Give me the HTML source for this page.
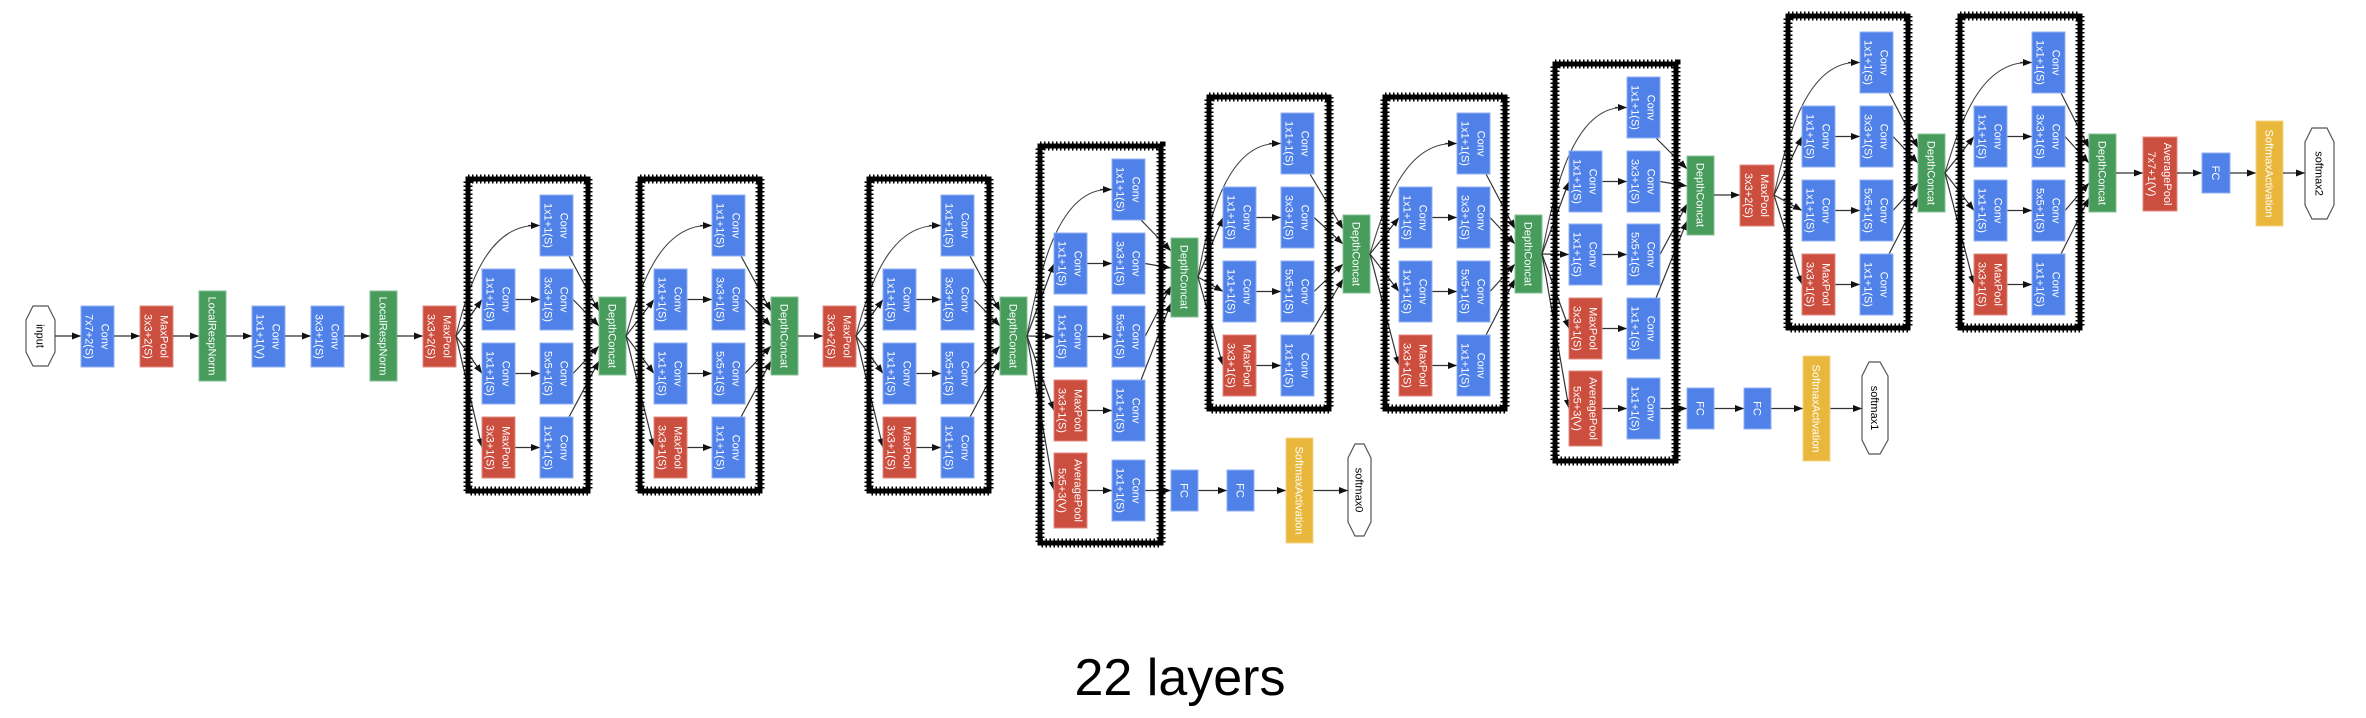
<!DOCTYPE html>
<html><head><meta charset="utf-8"><style>
html,body{margin:0;padding:0;background:#fff;}
svg{display:block;}
.b{fill:#4f81e9;stroke:#8fb0f2;stroke-width:1}
.r{fill:#cc4e3f;stroke:#e08b80;stroke-width:1}
.g{fill:#479c5c;stroke:#86c196;stroke-width:1}
.y{fill:#e9b73c;stroke:#f2d48a;stroke-width:1}
.t{fill:#fff;font-family:"Liberation Sans",sans-serif;font-size:11px;text-anchor:middle}
.k{fill:#000;font-family:"Liberation Sans",sans-serif;font-size:11px;text-anchor:middle}
.e{stroke:#333;stroke-width:1.2;fill:none;marker-end:url(#a)}
.l{stroke:#444;stroke-width:1.1;fill:none}
.bd{fill:none;stroke:#000;stroke-width:5}
.bd2{fill:none;stroke:#000;stroke-width:9;stroke-dasharray:1.5 2.5}
.h{fill:#fff;stroke:#555;stroke-width:1.2}
</style></head><body>
<svg width="2366" height="718" viewBox="0 0 2366 718" xmlns="http://www.w3.org/2000/svg">
<defs><marker id="a" markerWidth="9" markerHeight="7" refX="9" refY="3.5" orient="auto" markerUnits="userSpaceOnUse"><path d="M0,0 L9,3.5 L0,7z" fill="#111"/></marker></defs>

<!-- stem -->
<polygon class="h" points="33,306 48,306 55,320 55,352 48,366 33,366 26,352 26,320"/>
<text class="k" transform="translate(40.5,336) rotate(90)"><tspan x="0" y="4">input</tspan></text>
<path class="e" d="M55,336 H81"/>
<rect class="b" x="81" y="306" width="33" height="61"/><text class="t" transform="translate(97.5,336.5) rotate(90)"><tspan x="0" y="-4">Conv</tspan><tspan x="0" y="12">7x7+2(S)</tspan></text>
<path class="e" d="M114,336 H140"/>
<rect class="r" x="140" y="306" width="33" height="61"/><text class="t" transform="translate(156.5,336.5) rotate(90)"><tspan x="0" y="-4">MaxPool</tspan><tspan x="0" y="12">3x3+2(S)</tspan></text>
<path class="e" d="M173,336 H199"/>
<rect class="g" x="199" y="291" width="27" height="90"/><text class="t" transform="translate(212.5,336) rotate(90)"><tspan x="0" y="4">LocalRespNorm</tspan></text>
<path class="e" d="M226,336 H252"/>
<rect class="b" x="252" y="306" width="33" height="61"/><text class="t" transform="translate(268.5,336.5) rotate(90)"><tspan x="0" y="-4">Conv</tspan><tspan x="0" y="12">1x1+1(V)</tspan></text>
<path class="e" d="M285,336 H311"/>
<rect class="b" x="311" y="306" width="33" height="61"/><text class="t" transform="translate(327.5,336.5) rotate(90)"><tspan x="0" y="-4">Conv</tspan><tspan x="0" y="12">3x3+1(S)</tspan></text>
<path class="e" d="M344,336 H370"/>
<rect class="g" x="370" y="291" width="27" height="90"/><text class="t" transform="translate(383.5,336) rotate(90)"><tspan x="0" y="4">LocalRespNorm</tspan></text>
<path class="e" d="M397,336 H423"/>
<rect class="r" x="423" y="306" width="33" height="61"/><text class="t" transform="translate(439.5,336.5) rotate(90)"><tspan x="0" y="-4">MaxPool</tspan><tspan x="0" y="12">3x3+2(S)</tspan></text>

<!-- Inception A: box1 -->
<g transform="translate(468,336)">
<path class="l" d="M-12,0 C0,-50 20,-110.5 68,-110.5"/><path class="e" d="M60,-110.5 H72"/>
<path class="e" d="M-12,0 L14,-36.5"/><path class="e" d="M-12,0 L14,37.5"/><path class="e" d="M-12,0 L14,111.5"/>
<path class="e" d="M47,-36.5 H72"/><path class="e" d="M47,37.5 H72"/><path class="e" d="M47,111.5 H72"/>
<path class="e" d="M101,-80 L131,-25"/><path class="e" d="M105,-36.5 L131,-10"/><path class="e" d="M105,37.5 L131,10"/><path class="e" d="M101,81 L131,25"/>
<rect class="bd" x="0" y="-157" width="120" height="312"/><rect class="bd2" x="0" y="-157" width="120" height="312"/>
<rect class="b" x="72" y="-141" width="33" height="61"/><text class="t" transform="translate(88.5,-110.5) rotate(90)"><tspan x="0" y="-4">Conv</tspan><tspan x="0" y="12">1x1+1(S)</tspan></text>
<rect class="b" x="14" y="-67" width="33" height="61"/><text class="t" transform="translate(30.5,-36.5) rotate(90)"><tspan x="0" y="-4">Conv</tspan><tspan x="0" y="12">1x1+1(S)</tspan></text>
<rect class="b" x="72" y="-67" width="33" height="61"/><text class="t" transform="translate(88.5,-36.5) rotate(90)"><tspan x="0" y="-4">Conv</tspan><tspan x="0" y="12">3x3+1(S)</tspan></text>
<rect class="b" x="14" y="7" width="33" height="61"/><text class="t" transform="translate(30.5,37.5) rotate(90)"><tspan x="0" y="-4">Conv</tspan><tspan x="0" y="12">1x1+1(S)</tspan></text>
<rect class="b" x="72" y="7" width="33" height="61"/><text class="t" transform="translate(88.5,37.5) rotate(90)"><tspan x="0" y="-4">Conv</tspan><tspan x="0" y="12">5x5+1(S)</tspan></text>
<rect class="r" x="14" y="81" width="33" height="61"/><text class="t" transform="translate(30.5,111.5) rotate(90)"><tspan x="0" y="-4">MaxPool</tspan><tspan x="0" y="12">3x3+1(S)</tspan></text>
<rect class="b" x="72" y="81" width="33" height="61"/><text class="t" transform="translate(88.5,111.5) rotate(90)"><tspan x="0" y="-4">Conv</tspan><tspan x="0" y="12">1x1+1(S)</tspan></text>
<rect class="g" x="131" y="-39" width="27" height="78"/><text class="t" transform="translate(144.5,0) rotate(90)"><tspan x="0" y="4">DepthConcat</tspan></text>
</g>

<!-- box2 -->
<g transform="translate(640,336)">
<path class="l" d="M-14,0 C0,-50 20,-110.5 68,-110.5"/><path class="e" d="M60,-110.5 H72"/>
<path class="e" d="M-14,0 L14,-36.5"/><path class="e" d="M-14,0 L14,37.5"/><path class="e" d="M-14,0 L14,111.5"/>
<path class="e" d="M47,-36.5 H72"/><path class="e" d="M47,37.5 H72"/><path class="e" d="M47,111.5 H72"/>
<path class="e" d="M101,-80 L131,-25"/><path class="e" d="M105,-36.5 L131,-10"/><path class="e" d="M105,37.5 L131,10"/><path class="e" d="M101,81 L131,25"/>
<rect class="bd" x="0" y="-157" width="120" height="312"/><rect class="bd2" x="0" y="-157" width="120" height="312"/>
<rect class="b" x="72" y="-141" width="33" height="61"/><text class="t" transform="translate(88.5,-110.5) rotate(90)"><tspan x="0" y="-4">Conv</tspan><tspan x="0" y="12">1x1+1(S)</tspan></text>
<rect class="b" x="14" y="-67" width="33" height="61"/><text class="t" transform="translate(30.5,-36.5) rotate(90)"><tspan x="0" y="-4">Conv</tspan><tspan x="0" y="12">1x1+1(S)</tspan></text>
<rect class="b" x="72" y="-67" width="33" height="61"/><text class="t" transform="translate(88.5,-36.5) rotate(90)"><tspan x="0" y="-4">Conv</tspan><tspan x="0" y="12">3x3+1(S)</tspan></text>
<rect class="b" x="14" y="7" width="33" height="61"/><text class="t" transform="translate(30.5,37.5) rotate(90)"><tspan x="0" y="-4">Conv</tspan><tspan x="0" y="12">1x1+1(S)</tspan></text>
<rect class="b" x="72" y="7" width="33" height="61"/><text class="t" transform="translate(88.5,37.5) rotate(90)"><tspan x="0" y="-4">Conv</tspan><tspan x="0" y="12">5x5+1(S)</tspan></text>
<rect class="r" x="14" y="81" width="33" height="61"/><text class="t" transform="translate(30.5,111.5) rotate(90)"><tspan x="0" y="-4">MaxPool</tspan><tspan x="0" y="12">3x3+1(S)</tspan></text>
<rect class="b" x="72" y="81" width="33" height="61"/><text class="t" transform="translate(88.5,111.5) rotate(90)"><tspan x="0" y="-4">Conv</tspan><tspan x="0" y="12">1x1+1(S)</tspan></text>
<rect class="g" x="131" y="-39" width="27" height="78"/><text class="t" transform="translate(144.5,0) rotate(90)"><tspan x="0" y="4">DepthConcat</tspan></text>
</g>

<path class="e" d="M798,336 H823"/>
<rect class="r" x="823" y="306" width="33" height="61"/><text class="t" transform="translate(839.5,336.5) rotate(90)"><tspan x="0" y="-4">MaxPool</tspan><tspan x="0" y="12">3x3+2(S)</tspan></text>

<!-- box3 -->
<g transform="translate(869,336)">
<path class="l" d="M-13,0 C0,-50 20,-110.5 68,-110.5"/><path class="e" d="M60,-110.5 H72"/>
<path class="e" d="M-13,0 L14,-36.5"/><path class="e" d="M-13,0 L14,37.5"/><path class="e" d="M-13,0 L14,111.5"/>
<path class="e" d="M47,-36.5 H72"/><path class="e" d="M47,37.5 H72"/><path class="e" d="M47,111.5 H72"/>
<path class="e" d="M101,-80 L131,-25"/><path class="e" d="M105,-36.5 L131,-10"/><path class="e" d="M105,37.5 L131,10"/><path class="e" d="M101,81 L131,25"/>
<rect class="bd" x="0" y="-157" width="120" height="312"/><rect class="bd2" x="0" y="-157" width="120" height="312"/>
<rect class="b" x="72" y="-141" width="33" height="61"/><text class="t" transform="translate(88.5,-110.5) rotate(90)"><tspan x="0" y="-4">Conv</tspan><tspan x="0" y="12">1x1+1(S)</tspan></text>
<rect class="b" x="14" y="-67" width="33" height="61"/><text class="t" transform="translate(30.5,-36.5) rotate(90)"><tspan x="0" y="-4">Conv</tspan><tspan x="0" y="12">1x1+1(S)</tspan></text>
<rect class="b" x="72" y="-67" width="33" height="61"/><text class="t" transform="translate(88.5,-36.5) rotate(90)"><tspan x="0" y="-4">Conv</tspan><tspan x="0" y="12">3x3+1(S)</tspan></text>
<rect class="b" x="14" y="7" width="33" height="61"/><text class="t" transform="translate(30.5,37.5) rotate(90)"><tspan x="0" y="-4">Conv</tspan><tspan x="0" y="12">1x1+1(S)</tspan></text>
<rect class="b" x="72" y="7" width="33" height="61"/><text class="t" transform="translate(88.5,37.5) rotate(90)"><tspan x="0" y="-4">Conv</tspan><tspan x="0" y="12">5x5+1(S)</tspan></text>
<rect class="r" x="14" y="81" width="33" height="61"/><text class="t" transform="translate(30.5,111.5) rotate(90)"><tspan x="0" y="-4">MaxPool</tspan><tspan x="0" y="12">3x3+1(S)</tspan></text>
<rect class="b" x="72" y="81" width="33" height="61"/><text class="t" transform="translate(88.5,111.5) rotate(90)"><tspan x="0" y="-4">Conv</tspan><tspan x="0" y="12">1x1+1(S)</tspan></text>
<rect class="g" x="131" y="-39" width="27" height="78"/><text class="t" transform="translate(144.5,0) rotate(90)"><tspan x="0" y="4">DepthConcat</tspan></text>
</g>

<!-- box4 aux -->
<g transform="translate(1040,336)">
<path class="l" d="M-13,0 C0,-70 20,-146.5 68,-146.5"/><path class="e" d="M60,-146.5 H72"/>
<path class="e" d="M-13,0 L14,-72.5"/><path class="e" d="M-13,0 L14,0.5"/><path class="e" d="M-13,0 L14,74.5"/><path class="e" d="M-13,0 L14,154.5"/>
<path class="e" d="M47,-72.5 H72"/><path class="e" d="M47,0.5 H72"/><path class="e" d="M47,74.5 H72"/><path class="e" d="M47,154.5 H72"/>
<path class="e" d="M101,-116 L131,-85"/><path class="e" d="M105,-72.5 L131,-68"/><path class="e" d="M105,0.5 L131,-50"/><path class="e" d="M101,44 L131,-33"/>
<path class="e" d="M105,154.5 H131"/><path class="e" d="M158,154.5 H187"/><path class="e" d="M214,154.5 H246"/><path class="e" d="M273,154.5 H308"/>
<rect class="bd" x="0" y="-190" width="121" height="397"/><rect class="bd2" x="0" y="-190" width="121" height="397"/>
<rect class="b" x="72" y="-177" width="33" height="61"/><text class="t" transform="translate(88.5,-146.5) rotate(90)"><tspan x="0" y="-4">Conv</tspan><tspan x="0" y="12">1x1+1(S)</tspan></text>
<rect class="b" x="14" y="-103" width="33" height="61"/><text class="t" transform="translate(30.5,-72.5) rotate(90)"><tspan x="0" y="-4">Conv</tspan><tspan x="0" y="12">1x1+1(S)</tspan></text>
<rect class="b" x="72" y="-103" width="33" height="61"/><text class="t" transform="translate(88.5,-72.5) rotate(90)"><tspan x="0" y="-4">Conv</tspan><tspan x="0" y="12">3x3+1(S)</tspan></text>
<rect class="b" x="14" y="-30" width="33" height="61"/><text class="t" transform="translate(30.5,0.5) rotate(90)"><tspan x="0" y="-4">Conv</tspan><tspan x="0" y="12">1x1+1(S)</tspan></text>
<rect class="b" x="72" y="-30" width="33" height="61"/><text class="t" transform="translate(88.5,0.5) rotate(90)"><tspan x="0" y="-4">Conv</tspan><tspan x="0" y="12">5x5+1(S)</tspan></text>
<rect class="r" x="14" y="44" width="33" height="61"/><text class="t" transform="translate(30.5,74.5) rotate(90)"><tspan x="0" y="-4">MaxPool</tspan><tspan x="0" y="12">3x3+1(S)</tspan></text>
<rect class="b" x="72" y="44" width="33" height="61"/><text class="t" transform="translate(88.5,74.5) rotate(90)"><tspan x="0" y="-4">Conv</tspan><tspan x="0" y="12">1x1+1(S)</tspan></text>
<rect class="r" x="14" y="117" width="33" height="75"/><text class="t" transform="translate(30.5,154.5) rotate(90)"><tspan x="0" y="-4">AveragePool</tspan><tspan x="0" y="12">5x5+3(V)</tspan></text>
<rect class="b" x="72" y="124" width="33" height="61"/><text class="t" transform="translate(88.5,154.5) rotate(90)"><tspan x="0" y="-4">Conv</tspan><tspan x="0" y="12">1x1+1(S)</tspan></text>
<rect class="g" x="131" y="-98" width="27" height="79"/><text class="t" transform="translate(144.5,-59) rotate(90)"><tspan x="0" y="4">DepthConcat</tspan></text>
<rect class="b" x="131" y="134" width="27" height="41"/><text class="t" transform="translate(144.5,154.5) rotate(90)"><tspan x="0" y="4">FC</tspan></text>
<rect class="b" x="187" y="134" width="27" height="41"/><text class="t" transform="translate(200.5,154.5) rotate(90)"><tspan x="0" y="4">FC</tspan></text>
<rect class="y" x="246" y="102" width="27" height="105"/><text class="t" transform="translate(259.5,154.5) rotate(90)"><tspan x="0" y="4">SoftmaxActivation</tspan></text>
<polygon class="h" points="315,108 324,108 331,122 331,186 324,200 315,200 308,186 308,122"/>
<text class="k" transform="translate(319.5,154) rotate(90)"><tspan x="0" y="4">softmax0</tspan></text>
</g>

<!-- box5 -->
<g transform="translate(1209,254)">
<path class="l" d="M-11,23 C0,-40 20,-110.5 68,-110.5"/><path class="e" d="M60,-110.5 H72"/>
<path class="e" d="M-11,23 L14,-36.5"/><path class="e" d="M-11,23 L14,37.5"/><path class="e" d="M-11,23 L14,111.5"/>
<path class="e" d="M47,-36.5 H72"/><path class="e" d="M47,37.5 H72"/><path class="e" d="M47,111.5 H72"/>
<path class="e" d="M101,-80 L134,-25"/><path class="e" d="M105,-36.5 L134,-10"/><path class="e" d="M105,37.5 L134,10"/><path class="e" d="M101,81 L134,25"/>
<rect class="bd" x="0" y="-157" width="120" height="312"/><rect class="bd2" x="0" y="-157" width="120" height="312"/>
<rect class="b" x="72" y="-141" width="33" height="61"/><text class="t" transform="translate(88.5,-110.5) rotate(90)"><tspan x="0" y="-4">Conv</tspan><tspan x="0" y="12">1x1+1(S)</tspan></text>
<rect class="b" x="14" y="-67" width="33" height="61"/><text class="t" transform="translate(30.5,-36.5) rotate(90)"><tspan x="0" y="-4">Conv</tspan><tspan x="0" y="12">1x1+1(S)</tspan></text>
<rect class="b" x="72" y="-67" width="33" height="61"/><text class="t" transform="translate(88.5,-36.5) rotate(90)"><tspan x="0" y="-4">Conv</tspan><tspan x="0" y="12">3x3+1(S)</tspan></text>
<rect class="b" x="14" y="7" width="33" height="61"/><text class="t" transform="translate(30.5,37.5) rotate(90)"><tspan x="0" y="-4">Conv</tspan><tspan x="0" y="12">1x1+1(S)</tspan></text>
<rect class="b" x="72" y="7" width="33" height="61"/><text class="t" transform="translate(88.5,37.5) rotate(90)"><tspan x="0" y="-4">Conv</tspan><tspan x="0" y="12">5x5+1(S)</tspan></text>
<rect class="r" x="14" y="81" width="33" height="61"/><text class="t" transform="translate(30.5,111.5) rotate(90)"><tspan x="0" y="-4">MaxPool</tspan><tspan x="0" y="12">3x3+1(S)</tspan></text>
<rect class="b" x="72" y="81" width="33" height="61"/><text class="t" transform="translate(88.5,111.5) rotate(90)"><tspan x="0" y="-4">Conv</tspan><tspan x="0" y="12">1x1+1(S)</tspan></text>
<rect class="g" x="134" y="-39" width="27" height="78"/><text class="t" transform="translate(147.5,0) rotate(90)"><tspan x="0" y="4">DepthConcat</tspan></text>
</g>

<!-- box6 -->
<g transform="translate(1385,254)">
<path class="l" d="M-15,0 C0,-50 20,-110.5 68,-110.5"/><path class="e" d="M60,-110.5 H72"/>
<path class="e" d="M-15,0 L14,-36.5"/><path class="e" d="M-15,0 L14,37.5"/><path class="e" d="M-15,0 L14,111.5"/>
<path class="e" d="M47,-36.5 H72"/><path class="e" d="M47,37.5 H72"/><path class="e" d="M47,111.5 H72"/>
<path class="e" d="M101,-80 L130,-25"/><path class="e" d="M105,-36.5 L130,-10"/><path class="e" d="M105,37.5 L130,10"/><path class="e" d="M101,81 L130,25"/>
<rect class="bd" x="0" y="-157" width="120" height="312"/><rect class="bd2" x="0" y="-157" width="120" height="312"/>
<rect class="b" x="72" y="-141" width="33" height="61"/><text class="t" transform="translate(88.5,-110.5) rotate(90)"><tspan x="0" y="-4">Conv</tspan><tspan x="0" y="12">1x1+1(S)</tspan></text>
<rect class="b" x="14" y="-67" width="33" height="61"/><text class="t" transform="translate(30.5,-36.5) rotate(90)"><tspan x="0" y="-4">Conv</tspan><tspan x="0" y="12">1x1+1(S)</tspan></text>
<rect class="b" x="72" y="-67" width="33" height="61"/><text class="t" transform="translate(88.5,-36.5) rotate(90)"><tspan x="0" y="-4">Conv</tspan><tspan x="0" y="12">3x3+1(S)</tspan></text>
<rect class="b" x="14" y="7" width="33" height="61"/><text class="t" transform="translate(30.5,37.5) rotate(90)"><tspan x="0" y="-4">Conv</tspan><tspan x="0" y="12">1x1+1(S)</tspan></text>
<rect class="b" x="72" y="7" width="33" height="61"/><text class="t" transform="translate(88.5,37.5) rotate(90)"><tspan x="0" y="-4">Conv</tspan><tspan x="0" y="12">5x5+1(S)</tspan></text>
<rect class="r" x="14" y="81" width="33" height="61"/><text class="t" transform="translate(30.5,111.5) rotate(90)"><tspan x="0" y="-4">MaxPool</tspan><tspan x="0" y="12">3x3+1(S)</tspan></text>
<rect class="b" x="72" y="81" width="33" height="61"/><text class="t" transform="translate(88.5,111.5) rotate(90)"><tspan x="0" y="-4">Conv</tspan><tspan x="0" y="12">1x1+1(S)</tspan></text>
<rect class="g" x="130" y="-39" width="27" height="78"/><text class="t" transform="translate(143.5,0) rotate(90)"><tspan x="0" y="4">DepthConcat</tspan></text>
</g>

<!-- box7 aux -->
<g transform="translate(1555,254)">
<path class="l" d="M-13,0 C0,-70 20,-146.5 68,-146.5"/><path class="e" d="M60,-146.5 H72"/>
<path class="e" d="M-13,0 L14,-72.5"/><path class="e" d="M-13,0 L14,0.5"/><path class="e" d="M-13,0 L14,74.5"/><path class="e" d="M-13,0 L14,154.5"/>
<path class="e" d="M47,-72.5 H72"/><path class="e" d="M47,0.5 H72"/><path class="e" d="M47,74.5 H72"/><path class="e" d="M47,154.5 H72"/>
<path class="e" d="M101,-116 L132,-85"/><path class="e" d="M105,-72.5 L132,-68"/><path class="e" d="M105,0.5 L132,-50"/><path class="e" d="M101,44 L132,-33"/>
<path class="e" d="M105,154.5 H132"/><path class="e" d="M159,154.5 H189"/><path class="e" d="M216,154.5 H248"/><path class="e" d="M275,154.5 H307"/>
<rect class="bd" x="0" y="-190" width="121" height="397"/><rect class="bd2" x="0" y="-190" width="121" height="397"/>
<rect class="b" x="72" y="-177" width="33" height="61"/><text class="t" transform="translate(88.5,-146.5) rotate(90)"><tspan x="0" y="-4">Conv</tspan><tspan x="0" y="12">1x1+1(S)</tspan></text>
<rect class="b" x="14" y="-103" width="33" height="61"/><text class="t" transform="translate(30.5,-72.5) rotate(90)"><tspan x="0" y="-4">Conv</tspan><tspan x="0" y="12">1x1+1(S)</tspan></text>
<rect class="b" x="72" y="-103" width="33" height="61"/><text class="t" transform="translate(88.5,-72.5) rotate(90)"><tspan x="0" y="-4">Conv</tspan><tspan x="0" y="12">3x3+1(S)</tspan></text>
<rect class="b" x="14" y="-30" width="33" height="61"/><text class="t" transform="translate(30.5,0.5) rotate(90)"><tspan x="0" y="-4">Conv</tspan><tspan x="0" y="12">1x1+1(S)</tspan></text>
<rect class="b" x="72" y="-30" width="33" height="61"/><text class="t" transform="translate(88.5,0.5) rotate(90)"><tspan x="0" y="-4">Conv</tspan><tspan x="0" y="12">5x5+1(S)</tspan></text>
<rect class="r" x="14" y="44" width="33" height="61"/><text class="t" transform="translate(30.5,74.5) rotate(90)"><tspan x="0" y="-4">MaxPool</tspan><tspan x="0" y="12">3x3+1(S)</tspan></text>
<rect class="b" x="72" y="44" width="33" height="61"/><text class="t" transform="translate(88.5,74.5) rotate(90)"><tspan x="0" y="-4">Conv</tspan><tspan x="0" y="12">1x1+1(S)</tspan></text>
<rect class="r" x="14" y="117" width="33" height="75"/><text class="t" transform="translate(30.5,154.5) rotate(90)"><tspan x="0" y="-4">AveragePool</tspan><tspan x="0" y="12">5x5+3(V)</tspan></text>
<rect class="b" x="72" y="124" width="33" height="61"/><text class="t" transform="translate(88.5,154.5) rotate(90)"><tspan x="0" y="-4">Conv</tspan><tspan x="0" y="12">1x1+1(S)</tspan></text>
<rect class="g" x="132" y="-98" width="27" height="79"/><text class="t" transform="translate(145.5,-59) rotate(90)"><tspan x="0" y="4">DepthConcat</tspan></text>
<rect class="b" x="132" y="134" width="27" height="41"/><text class="t" transform="translate(145.5,154.5) rotate(90)"><tspan x="0" y="4">FC</tspan></text>
<rect class="b" x="189" y="134" width="27" height="41"/><text class="t" transform="translate(202.5,154.5) rotate(90)"><tspan x="0" y="4">FC</tspan></text>
<rect class="y" x="248" y="102" width="27" height="105"/><text class="t" transform="translate(261.5,154.5) rotate(90)"><tspan x="0" y="4">SoftmaxActivation</tspan></text>
<polygon class="h" points="314,108 325,108 333,122 333,186 325,200 314,200 307,186 307,122"/>
<text class="k" transform="translate(320,154) rotate(90)"><tspan x="0" y="4">softmax1</tspan></text>
</g>

<path class="e" d="M1714,195 H1740"/>
<rect class="r" x="1740" y="165" width="34" height="61"/><text class="t" transform="translate(1757,195.5) rotate(90)"><tspan x="0" y="-4">MaxPool</tspan><tspan x="0" y="12">3x3+2(S)</tspan></text>

<!-- box8 -->
<g transform="translate(1788,173)">
<path class="l" d="M-14,22 C0,-40 20,-110.5 68,-110.5"/><path class="e" d="M60,-110.5 H72"/>
<path class="e" d="M-14,22 L14,-36.5"/><path class="e" d="M-14,22 L14,37.5"/><path class="e" d="M-14,22 L14,111.5"/>
<path class="e" d="M47,-36.5 H72"/><path class="e" d="M47,37.5 H72"/><path class="e" d="M47,111.5 H72"/>
<path class="e" d="M101,-80 L130,-25"/><path class="e" d="M105,-36.5 L130,-10"/><path class="e" d="M105,37.5 L130,10"/><path class="e" d="M101,81 L130,25"/>
<rect class="bd" x="0" y="-157" width="120" height="312"/><rect class="bd2" x="0" y="-157" width="120" height="312"/>
<rect class="b" x="72" y="-141" width="33" height="61"/><text class="t" transform="translate(88.5,-110.5) rotate(90)"><tspan x="0" y="-4">Conv</tspan><tspan x="0" y="12">1x1+1(S)</tspan></text>
<rect class="b" x="14" y="-67" width="33" height="61"/><text class="t" transform="translate(30.5,-36.5) rotate(90)"><tspan x="0" y="-4">Conv</tspan><tspan x="0" y="12">1x1+1(S)</tspan></text>
<rect class="b" x="72" y="-67" width="33" height="61"/><text class="t" transform="translate(88.5,-36.5) rotate(90)"><tspan x="0" y="-4">Conv</tspan><tspan x="0" y="12">3x3+1(S)</tspan></text>
<rect class="b" x="14" y="7" width="33" height="61"/><text class="t" transform="translate(30.5,37.5) rotate(90)"><tspan x="0" y="-4">Conv</tspan><tspan x="0" y="12">1x1+1(S)</tspan></text>
<rect class="b" x="72" y="7" width="33" height="61"/><text class="t" transform="translate(88.5,37.5) rotate(90)"><tspan x="0" y="-4">Conv</tspan><tspan x="0" y="12">5x5+1(S)</tspan></text>
<rect class="r" x="14" y="81" width="33" height="61"/><text class="t" transform="translate(30.5,111.5) rotate(90)"><tspan x="0" y="-4">MaxPool</tspan><tspan x="0" y="12">3x3+1(S)</tspan></text>
<rect class="b" x="72" y="81" width="33" height="61"/><text class="t" transform="translate(88.5,111.5) rotate(90)"><tspan x="0" y="-4">Conv</tspan><tspan x="0" y="12">1x1+1(S)</tspan></text>
<rect class="g" x="130" y="-39" width="27" height="78"/><text class="t" transform="translate(143.5,0) rotate(90)"><tspan x="0" y="4">DepthConcat</tspan></text>
</g>

<!-- box9 -->
<g transform="translate(1960,173)">
<path class="l" d="M-15,0 C0,-50 20,-110.5 68,-110.5"/><path class="e" d="M60,-110.5 H72"/>
<path class="e" d="M-15,0 L14,-36.5"/><path class="e" d="M-15,0 L14,37.5"/><path class="e" d="M-15,0 L14,111.5"/>
<path class="e" d="M47,-36.5 H72"/><path class="e" d="M47,37.5 H72"/><path class="e" d="M47,111.5 H72"/>
<path class="e" d="M101,-80 L129,-25"/><path class="e" d="M105,-36.5 L129,-10"/><path class="e" d="M105,37.5 L129,10"/><path class="e" d="M101,81 L129,25"/>
<rect class="bd" x="0" y="-157" width="120" height="312"/><rect class="bd2" x="0" y="-157" width="120" height="312"/>
<rect class="b" x="72" y="-141" width="33" height="61"/><text class="t" transform="translate(88.5,-110.5) rotate(90)"><tspan x="0" y="-4">Conv</tspan><tspan x="0" y="12">1x1+1(S)</tspan></text>
<rect class="b" x="14" y="-67" width="33" height="61"/><text class="t" transform="translate(30.5,-36.5) rotate(90)"><tspan x="0" y="-4">Conv</tspan><tspan x="0" y="12">1x1+1(S)</tspan></text>
<rect class="b" x="72" y="-67" width="33" height="61"/><text class="t" transform="translate(88.5,-36.5) rotate(90)"><tspan x="0" y="-4">Conv</tspan><tspan x="0" y="12">3x3+1(S)</tspan></text>
<rect class="b" x="14" y="7" width="33" height="61"/><text class="t" transform="translate(30.5,37.5) rotate(90)"><tspan x="0" y="-4">Conv</tspan><tspan x="0" y="12">1x1+1(S)</tspan></text>
<rect class="b" x="72" y="7" width="33" height="61"/><text class="t" transform="translate(88.5,37.5) rotate(90)"><tspan x="0" y="-4">Conv</tspan><tspan x="0" y="12">5x5+1(S)</tspan></text>
<rect class="r" x="14" y="81" width="33" height="61"/><text class="t" transform="translate(30.5,111.5) rotate(90)"><tspan x="0" y="-4">MaxPool</tspan><tspan x="0" y="12">3x3+1(S)</tspan></text>
<rect class="b" x="72" y="81" width="33" height="61"/><text class="t" transform="translate(88.5,111.5) rotate(90)"><tspan x="0" y="-4">Conv</tspan><tspan x="0" y="12">1x1+1(S)</tspan></text>
<rect class="g" x="129" y="-39" width="27" height="78"/><text class="t" transform="translate(142.5,0) rotate(90)"><tspan x="0" y="4">DepthConcat</tspan></text>
</g>

<path class="e" d="M2116,173 H2143"/>
<rect class="r" x="2143" y="137" width="34" height="74"/><text class="t" transform="translate(2160,174) rotate(90)"><tspan x="0" y="-4">AveragePool</tspan><tspan x="0" y="12">7x7+1(V)</tspan></text>
<path class="e" d="M2177,173 H2202"/>
<rect class="b" x="2202" y="153" width="28" height="40"/><text class="t" transform="translate(2216,173) rotate(90)"><tspan x="0" y="4">FC</tspan></text>
<path class="e" d="M2230,173 H2256"/>
<rect class="y" x="2256" y="121" width="27" height="105"/><text class="t" transform="translate(2269.5,173.5) rotate(90)"><tspan x="0" y="4">SoftmaxActivation</tspan></text>
<path class="e" d="M2283,173 H2305"/>
<polygon class="h" points="2312,128 2327,128 2334,142 2334,205 2327,219 2312,219 2305,205 2305,142"/>
<text class="k" transform="translate(2319.5,173.5) rotate(90)"><tspan x="0" y="4">softmax2</tspan></text>

<text x="1180" y="695" font-family="'Liberation Sans',sans-serif" font-size="52" text-anchor="middle" fill="#000">22 layers</text>
</svg>
</body></html>
